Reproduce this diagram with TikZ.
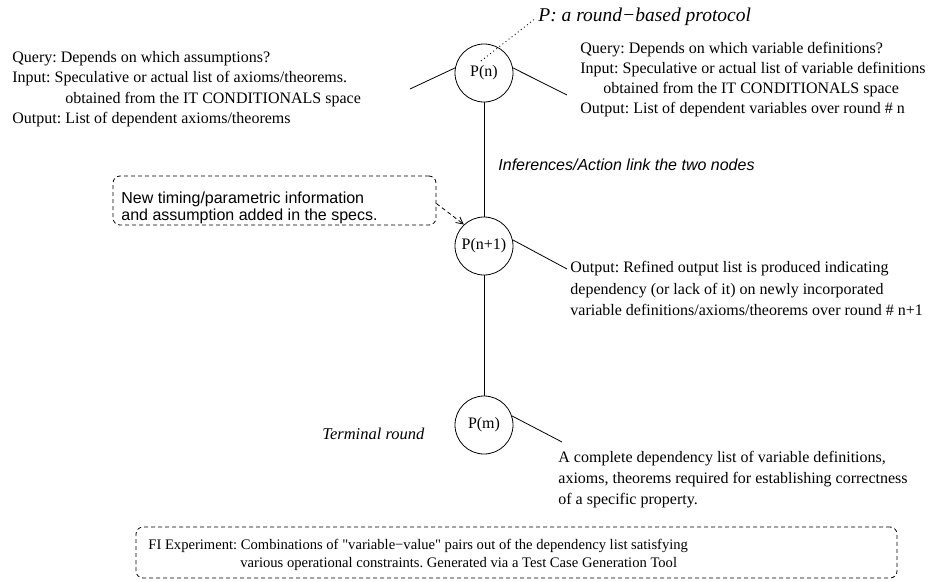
\documentclass[tikz,border=0pt]{standalone}
\usepackage{fontspec}
\setmainfont{Liberation Serif}
\setsansfont{Liberation Sans}
\newfontfamily\qfont{Liberation Serif}
\usetikzlibrary{arrows.meta}
\frenchspacing
\begin{document}
\begin{tikzpicture}[x=1pt,y=-1pt,line width=0.8pt,
  lbl/.style={anchor=base west, inner sep=0pt, font=\fontsize{16}{20}\selectfont},
  ilbl/.style={lbl, font=\fontsize{16.5}{20}\selectfont\itshape},
  tlbl/.style={lbl, font=\fontsize{19.5}{22}\selectfont\itshape},
  slbl/.style={anchor=base west, inner sep=0pt, font=\sffamily\itshape\fontsize{16}{20}\selectfont},
  nlbl/.style={anchor=base west, inner sep=0pt, font=\sffamily\fontsize{16}{20}\selectfont},
  blbl/.style={anchor=base west, inner sep=0pt, font=\fontsize{14.6}{18}\selectfont},
  roundnode/.style={circle, draw, minimum size=58pt, inner sep=0pt, font=\fontsize{16}{20}\selectfont},
  dbox/.style={draw, dash pattern=on 4pt off 3pt, rounded corners=7pt, inner sep=0pt}]
\useasboundingbox (0,0) rectangle (939,581);

% round nodes
\node[roundnode] (pn)  at (484,73)  {P(n)};
\node[roundnode] (pn1) at (484,246) {P(n+1)};
\node[roundnode] (pm)  at (484,425) {P(m)};
\draw (pn) -- (pn1);
\draw (pn1) -- (pm);

% title
\node[tlbl] (title) at (538,21) {P: a round−based protocol};
\coordinate (dotS) at (481,61);
\coordinate (dotE) at (536,18);
\draw[line width=0.9pt, dash pattern=on 0.9pt off 3pt] (dotS) -- (dotE);

% left block
\node[lbl] (lq) at (12,62) {Query: Depends on which assumptions?};
\node[lbl] (li) at (12,82) {Input: Speculative or actual list of axioms/theorems.};
\node[lbl] (lo) at (65,103) {obtained from the IT CONDITIONALS space};
\node[lbl] (lout) at (12,123) {Output: List of dependent axioms/theorems};
\coordinate (lend) at (410,89);
\draw (pn.170) -- (lend);

% right block
\node[lbl] (rq) at (580,53) {Query: Depends on which variable definitions?};
\node[lbl] (ri) at (580,73) {Input: Speculative or actual list of variable definitions};
\node[lbl] (ro) at (603,93) {obtained from the IT CONDITIONALS space};
\node[lbl] (rout) at (580,113) {Output: List of dependent variables over round \# n};
\coordinate (rend) at (567,95);
\draw (pn.10) -- (rend);

% inference
\node[slbl] (inf) at (498,170) {Inferences/Action link the two nodes};

% new timing box
\node[dbox, minimum width=323pt, minimum height=49pt] (nbox) at (274.5,200.5) {};
\node[nlbl] (nt1) at (121,203) {New timing/parametric information};
\node[nlbl] (nt2) at (121,220) {and assumption added in the specs.};
\draw[dash pattern=on 4pt off 3pt, -{Straight Barb[length=7pt,width=7pt]}] ([yshift=-3pt]nbox.east) -- (pn1.133);

% middle right
\node[lbl] (m1) at (570,272) {Output: Refined output list is produced indicating};
\node[lbl] (m2) at (570,294) {dependency (or lack of it) on newly incorporated};
\node[lbl] (m3) at (570,315) {variable definitions/axioms/theorems over round \# n+1};
\coordinate (mend) at (567,269);
\draw (pn1.12) -- (mend);

% terminal
\node[ilbl] (term) at (322,439) {Terminal round};
\node[lbl] (c1) at (558,462) {A complete dependency list of variable definitions,};
\node[lbl] (c2) at (558,483) {axioms, theorems required for establishing correctness};
\node[lbl] (c3) at (558,504) {of a specific property.};
\coordinate (cend) at (562,442);
\draw (pm.18) -- (cend);

% bottom box
\node[dbox, minimum width=761pt, minimum height=51pt] (fbox) at (516.5,552.5) {};
\node[blbl] (f1) at (148,549) {FI Experiment: Combinations of {\qfont"}variable−value{\qfont"} pairs out of the dependency list satisfying};
\node[blbl] (f2) at (240,567) {various operational constraints. Generated via a Test Case Generation Tool};
\end{tikzpicture}
\end{document}
